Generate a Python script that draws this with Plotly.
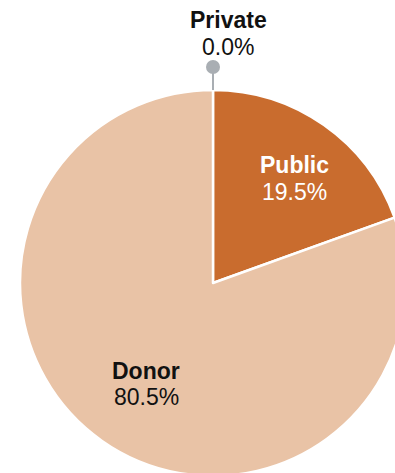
import plotly.graph_objects as go

labels = ["Private", "Public", "Donor"]
values = [0.0, 19.5, 80.5]
colors = ["#A9AEB3", "#C96C2E", "#E9C3A6"]
text_colors = ["#111111", "#FFFFFF", "#111111"]

W, H = 410, 480
cx, cy, r = 213, 283, 193  # pixel geometry of the pie
FONT = "Arial, Liberation Sans, sans-serif"
FS = 23

# label placement (pixel centre x, name line centre y, value line centre y)
label_pos = {"Private": (228, 20, 47), "Public": (294, 165, 192), "Donor": (146, 371, 397)}

fig = go.Figure(go.Pie(
    labels=labels,
    values=values,
    sort=False,
    direction="clockwise",
    rotation=0,
    marker=dict(colors=colors, line=dict(color="white", width=2.5)),
    textinfo="none",
    domain=dict(x=[(cx - r) / W, (cx + r) / W], y=[1 - (cy + r) / H, 1 - (cy - r) / H]),
    showlegend=False,
    hoverinfo="label+percent",
))

total = sum(values)
for lab, val, tc in zip(labels, values, text_colors):
    px, ny, vy = label_pos[lab]
    fig.add_annotation(xref="paper", yref="paper", x=px / W, y=1 - ny / H,
                       xanchor="center", yanchor="middle", showarrow=False,
                       text=f"<b>{lab}</b>", font=dict(family=FONT, size=FS, color=tc))
    fig.add_annotation(xref="paper", yref="paper", x=px / W, y=1 - vy / H,
                       xanchor="center", yanchor="middle", showarrow=False,
                       text=f"{100 * val / total:.1f}%", font=dict(family=FONT, size=FS, color=tc))

top = cy - r
dot_y, dot_r = 67, 7
fig.add_shape(type="line", xref="paper", yref="paper",
              x0=cx / W, x1=cx / W, y0=1 - top / H, y1=1 - dot_y / H,
              line=dict(color="#A9AEB3", width=2))
fig.add_shape(type="circle", xref="paper", yref="paper",
              x0=(cx - dot_r) / W, x1=(cx + dot_r) / W,
              y0=1 - (dot_y + dot_r) / H, y1=1 - (dot_y - dot_r) / H,
              fillcolor="#A9AEB3", line=dict(width=0))

fig.update_layout(width=W, height=H, margin=dict(l=0, r=0, t=0, b=0),
                  paper_bgcolor="white", plot_bgcolor="white")

fig.write_html("out.html", post_script=(
    "document.documentElement.style.overflow='hidden';"
    "document.body.style.overflow='hidden';document.body.style.margin='0';"))
